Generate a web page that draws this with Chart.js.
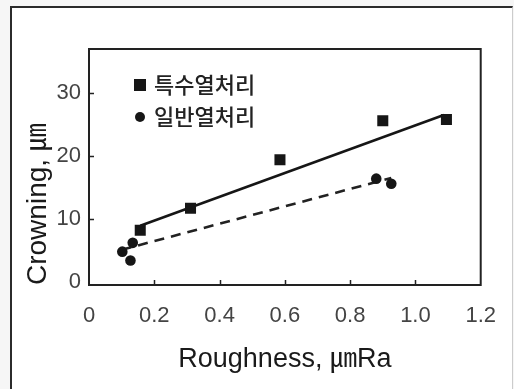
<!DOCTYPE html>
<html>
<head>
<meta charset="utf-8">
<script src="https://cdn.jsdelivr.net/npm/chart.js@4.4.1/dist/chart.umd.min.js"></script>
<style>
html, body { margin: 0; padding: 0; background: #f6f6f6; }
#frame { position: absolute; left: 10px; top: 6px; width: 500px; height: 381px; background: #fff;
  border-top: 2px solid #2b2b2b; border-left: 2px solid #2b2b2b; border-right: 1px solid #ccc; border-bottom: 1px solid #ccc; }
#wrap { position: absolute; left: 0; top: 0; width: 514px; height: 389px; }
</style>
</head>
<body>
<div id="frame"></div>
<div id="wrap"><canvas id="chart" width="514" height="389"></canvas></div>
<script>
// 특수열처리 (squares) and 일반열처리 (circles)
const specialX = [0.157, 0.311, 0.585, 0.900, 1.095];
const specialY = [8.2, 11.7, 19.4, 25.6, 25.8];
const normalX = [0.102, 0.127, 0.134, 0.880, 0.926];
const normalY = [4.8, 3.4, 6.2, 16.4, 15.6];

// trend lines
const specialFitX = [0.157, 1.087];
const specialFitY = [8.9, 26.5];
const normalFitX = [0.100, 0.926];
const normalFitY = [5.1, 16.5];

const seriesNames = ["특수열처리", "일반열처리"];
const xTickValues = [0, 0.2, 0.4, 0.6, 0.8, 1.0, 1.2];
const xTickLabels = ["0", "0.2", "0.4", "0.6", "0.8", "1.0", "1.2"];
const yTickValues = [0, 10, 20, 30];
const yTickLabels = ["0", "10", "20", "30"];

const FONT = "'Liberation Sans', 'Noto Sans CJK KR', sans-serif";
const INK = "#161616";

function pts(xs, ys) {
    return xs.map((x, i) => ({ x: x, y: ys[i] }));
}

// frame, inward tick marks and the legend inside the plot
const decorations = {
    id: "decorations",
    afterDraw(chart) {
        const ctx = chart.ctx;
        const a = chart.chartArea;
        const sx = chart.scales.x;
        const sy = chart.scales.y;
        ctx.save();
        ctx.strokeStyle = "#222";
        ctx.lineWidth = 2;
        ctx.strokeRect(a.left, a.top, a.right - a.left, a.bottom - a.top);

        ctx.lineWidth = 1.5;
        ctx.beginPath();
        xTickValues.slice(1, -1).forEach(v => {
            const px = Math.round(sx.getPixelForValue(v)) + 0.5;
            ctx.moveTo(px, a.bottom);
            ctx.lineTo(px, a.bottom - 5);
        });
        yTickValues.slice(1).forEach(v => {
            const py = Math.round(sy.getPixelForValue(v)) + 0.5;
            ctx.moveTo(a.left, py);
            ctx.lineTo(a.left + 5, py);
        });
        ctx.stroke();

        // legend
        const lx = a.left + 51;
        const rows = [a.top + 36, a.top + 68];
        ctx.fillStyle = INK;
        ctx.fillRect(lx - 6, rows[0] - 6, 12, 12);
        ctx.beginPath();
        ctx.arc(lx, rows[1], 5, 0, Math.PI * 2);
        ctx.fill();
        ctx.font = "500 22px 'Noto Sans CJK KR', sans-serif";
        ctx.textBaseline = "middle";
        ctx.textAlign = "left";
        ctx.fillStyle = "#222";
        ctx.fillText(seriesNames[0], lx + 14, rows[0]);
        ctx.fillText(seriesNames[1], lx + 14, rows[1]);
        ctx.restore();
    }
};

new Chart(document.getElementById("chart"), {
    type: "scatter",
    data: {
        datasets: [
            {
                label: seriesNames[0],
                data: pts(specialX, specialY),
                pointStyle: "rect",
                pointRadius: 7.8,
                backgroundColor: INK,
                borderColor: INK,
                borderWidth: 0
            },
            {
                label: seriesNames[1],
                data: pts(normalX, normalY),
                pointStyle: "circle",
                pointRadius: 5.3,
                backgroundColor: INK,
                borderColor: INK,
                borderWidth: 0
            },
            {
                type: "line",
                data: pts(specialFitX, specialFitY),
                borderColor: INK,
                borderWidth: 2.6,
                pointRadius: 0,
                fill: false
            },
            {
                type: "line",
                data: pts(normalFitX, normalFitY),
                borderColor: "#222",
                borderWidth: 2.6,
                borderDash: [10, 7],
                pointRadius: 0,
                fill: false
            }
        ]
    },
    options: {
        responsive: false,
        animation: false,
        layout: { padding: { top: 49, right: 22, left: 0, bottom: 0 } },
        plugins: {
            legend: { display: false },
            tooltip: { enabled: false }
        },
        scales: {
            x: {
                type: "linear",
                min: 0,
                max: 1.2,
                afterBuildTicks: s => { s.ticks = xTickValues.map(v => ({ value: v })); },
                afterFit: s => { s.height = 104; },
                grid: { display: false, drawTicks: false },
                border: { display: false },
                ticks: {
                    padding: 18,
                    maxRotation: 0,
                    autoSkip: false,
                    color: "#444",
                    font: { family: FONT, size: 22 },
                    callback: (v, i) => xTickLabels[i]
                },
                title: {
                    display: true,
                    text: "Roughness, ㎛Ra",
                    color: "#1a1a1a",
                    font: { family: FONT, size: 27 },
                    padding: { top: 0, bottom: 13 }
                }
            },
            y: {
                type: "linear",
                min: -0.5,
                max: 37,
                afterBuildTicks: s => { s.ticks = yTickValues.map(v => ({ value: v })); },
                afterFit: s => { s.width = 89; },
                grid: { display: false, drawTicks: false },
                border: { display: false },
                ticks: {
                    padding: 8,
                    color: "#444",
                    font: { family: FONT, size: 22 },
                    callback: (v, i) => yTickLabels[i]
                },
                title: {
                    display: true,
                    text: "Crowning, ㎛",
                    align: "start",
                    color: "#1a1a1a",
                    font: { family: FONT, size: 28 },
                    padding: { top: 21, bottom: 0 }
                }
            }
        }
    },
    plugins: [decorations]
});
</script>
</body>
</html>
